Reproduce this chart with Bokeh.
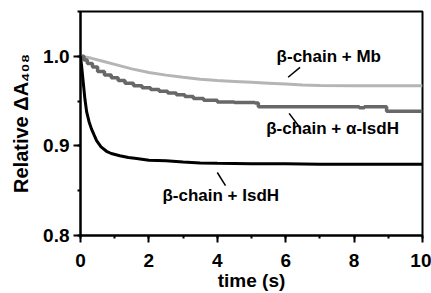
from bokeh.plotting import figure
from bokeh.models import Label, SingleIntervalTicker, PrintfTickFormatter, Range1d
from bokeh.embed import file_html
from bokeh.resources import INLINE

# ---- data ----
t_isdh = [0, 0.03, 0.08, 0.13, 0.18, 0.25, 0.32, 0.40, 0.47, 0.60, 0.76, 0.90, 1.15, 1.40,
          1.64, 2.0, 2.5, 3.0, 3.5, 4.0, 5.0, 6.0, 7.0, 8.0, 9.0, 10.0]
v_isdh = [1.0, 0.990, 0.971, 0.952, 0.938, 0.927, 0.919, 0.912, 0.906, 0.899, 0.894, 0.8915,
          0.889, 0.887, 0.886, 0.884, 0.8835, 0.882, 0.881, 0.8805, 0.880, 0.880, 0.8795,
          0.8795, 0.8795, 0.8795]

t_alpha = [0, 0.1, 0.2, 0.35, 0.5, 0.7, 0.9, 1.1, 1.3, 1.55, 1.8, 2.05, 2.3, 2.55, 2.8, 3.05,
           3.3, 3.6, 4.0, 4.5, 5.1, 5.2, 6.5, 8.1, 8.15, 8.3, 8.85, 8.95, 10.0]
v_alpha = [1.0, 0.996, 0.992, 0.988, 0.983, 0.979, 0.976, 0.973, 0.970, 0.967, 0.965, 0.963,
           0.961, 0.959, 0.957, 0.955, 0.953, 0.951, 0.949, 0.9485, 0.948, 0.9436, 0.9436,
           0.9436, 0.9425, 0.9436, 0.9436, 0.9388, 0.9388]

t_mb = [0, 0.3, 0.6, 1.0, 1.5, 2.0, 2.5, 3.0, 3.5, 4.0, 4.5, 5.0, 5.5, 6.0, 6.5, 7.0, 8.0, 9.0, 10.0]
v_mb = [1.0, 0.998, 0.995, 0.991, 0.986, 0.982, 0.979, 0.9765, 0.9745, 0.973, 0.972, 0.971,
        0.970, 0.969, 0.968, 0.9675, 0.967, 0.967, 0.967]

labels = ["\u03b2-chain + Mb", "\u03b2-chain + \u03b1-IsdH", "\u03b2-chain + IsdH"]
label_x = [7.26, 7.37, 4.10]
label_y = [0.9995, 0.9198, 0.845]
leader_x = [[6.07, 6.42], [6.10, 6.39], [4.00, 4.24]]
leader_y = [[0.9766, 0.9876], [0.9363, 0.9216], [0.8703, 0.8557]]

y_title = "Relative \u0394A\u2084\u2080\u2088"
x_title = "time (s)"

FONT = "Liberation Sans"

p = figure(width=431, height=293, output_backend="svg", toolbar_location=None,
           x_range=Range1d(0, 10), y_range=Range1d(0.8, 1.05),
           min_border_left=80, min_border_right=9, min_border_top=11, min_border_bottom=54)
p.background_fill_color = "white"
p.border_fill_color = "white"
p.outline_line_color = "black"
p.outline_line_width = 2
p.xgrid.visible = False
p.ygrid.visible = False

p.xaxis.ticker = SingleIntervalTicker(interval=2, num_minor_ticks=2)
p.yaxis.ticker = SingleIntervalTicker(interval=0.1, num_minor_ticks=2)
p.xaxis.formatter = PrintfTickFormatter(format="%d")
p.yaxis.formatter = PrintfTickFormatter(format="%.1f")

for ax in (p.xaxis, p.yaxis):
    ax.axis_line_width = 2
    ax.axis_line_color = "black"
    ax.major_tick_in = 0
    ax.major_tick_out = 7
    ax.minor_tick_in = 0
    ax.minor_tick_out = 3
    ax.major_tick_line_width = 2
    ax.minor_tick_line_width = 2
    ax.major_label_text_font = FONT
    ax.major_label_text_font_style = "bold"
    ax.major_label_text_font_size = "19px"
    ax.major_label_text_color = "black"
    ax.axis_label_text_font = FONT
    ax.axis_label_text_font_style = "bold"
    ax.axis_label_text_color = "black"

p.yaxis.major_label_standoff = 4
p.xaxis.major_label_standoff = 11
p.xaxis.axis_label = x_title
p.xaxis.axis_label_text_font_size = "19px"
p.xaxis.axis_label_standoff = 0
p.yaxis.axis_label = y_title
p.yaxis.axis_label_text_font_size = "20px"
p.yaxis.axis_label_standoff = 8

# curves
p.line(t_mb, v_mb, line_color="#b5b5b5", line_width=3)
p.step(t_alpha, v_alpha, mode="after", line_color="#686868", line_width=3.5)
p.line(t_isdh, v_isdh, line_color="black", line_width=3)

# curve labels and leader lines
for txt, lx, ly, sx, sy in zip(labels, label_x, label_y, leader_x, leader_y):
    p.add_layout(Label(x=lx, y=ly, text=txt, text_align="center", text_baseline="middle",
                       text_font=FONT, text_font_style="bold", text_font_size="17px",
                       text_color="black"))
    p.line(sx, sy, line_color="black", line_width=1.5)

open("out.html", "w").write(file_html(p, INLINE))
